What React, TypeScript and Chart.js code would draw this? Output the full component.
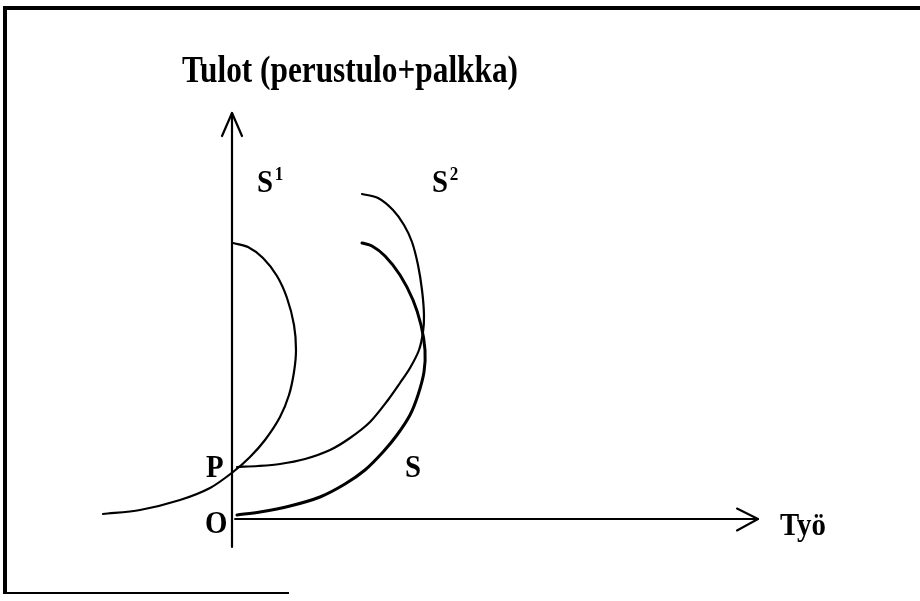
import React, { useEffect, useRef } from "react";
import { Chart, registerables } from "chart.js";

Chart.register(...registerables);

// Axis units: x = Työ (work), y = Tulot (income). Origin O = (0, 0).
// Supply curve S (from origin O, bending back at the top)
const sCurveX = [0.5, 2.8, 5.8, 8.8, 11.3, 13.3, 15.1, 16.5, 17.8, 18.6, 19.2, 19.3, 18.9, 18.1, 16.8, 15.3, 14.0, 13.0];
const sCurveY = [0.4, 0.7, 1.3, 2.2, 3.5, 4.9, 6.7, 8.4, 10.4, 12.4, 14.7, 16.9, 19.4, 21.9, 24.4, 26.3, 27.3, 27.6];

// Supply curve S¹ (crosses income axis at P, tail to the left)
const s1CurveX = [-12.9, -9.2, -5.2, -2.2, 0.1, 1.8, 3.3, 4.8, 5.7, 6.2, 6.4, 6.2, 5.5, 4.5, 3.1, 1.6, 0.1];
const s1CurveY = [0.5, 0.9, 1.9, 3.1, 4.7, 6.2, 7.9, 10.2, 12.4, 14.7, 16.9, 19.4, 22.1, 24.3, 26.1, 27.2, 27.6];

// Supply curve S² (starts from basic income P)
const s2CurveX = [0.5, 2.6, 4.8, 7.3, 9.8, 11.8, 13.8, 15.6, 16.8, 17.8, 18.7, 19.1, 19.2, 19.0, 18.6, 18.0, 17.2, 16.1, 14.6, 13.0];
const s2CurveY = [5.2, 5.3, 5.5, 6.0, 6.9, 8.1, 9.7, 11.9, 13.6, 15.1, 16.9, 18.7, 20.4, 22.9, 25.4, 27.7, 29.4, 30.9, 32.1, 32.5];

// Axes (with arrow heads)
const incomeAxisX = [0, 0];
const incomeAxisY = [-2.8, 40.6];
const incomeArrowX = [-1.0, 0, 1.0];
const incomeArrowY = [38.3, 40.6, 38.3];
const workAxisX = [0.3, 52.6];
const workAxisY = [0, 0];
const workArrowX = [50.5, 52.6, 50.5];
const workArrowY = [1.05, 0, -1.15];

// Texts
const titleText = "Tulot (perustulo+palkka)";
const labelTexts = ["S", "S", "P", "S", "O", "Työ"];
const labelSups = ["1", "2", "", "", "", ""];
const labelAnchorX = [2.5, 20.0, -2.6, 17.3, -2.7, 54.8];
const labelAnchorY = [32.7, 32.7, 4.2, 4.2, -1.4, -1.6];
const titleAnchor = { x: -5.0, y: 43.7 };

const X_MIN = -23.2;
const X_MAX = 68.8;
const Y_MIN = -8.2;
const Y_MAX = 51.9;

const zip = (xs: number[], ys: number[]) => xs.map((x, i) => ({ x, y: ys[i] }));

const SERIF = '"Liberation Serif", "Times New Roman", serif';

const textPlugin = {
  id: "diagramTexts",
  afterDatasetsDraw(chart: any) {
    const { ctx, scales } = chart;
    const sx = scales.x;
    const sy = scales.y;
    ctx.save();
    ctx.fillStyle = "#000";
    ctx.textAlign = "left";
    ctx.textBaseline = "alphabetic";

    // title
    ctx.save();
    ctx.translate(sx.getPixelForValue(titleAnchor.x), sy.getPixelForValue(titleAnchor.y));
    ctx.font = `bold 37px ${SERIF}`;
    const tw = ctx.measureText(titleText).width;
    ctx.scale(336 / tw, 1);
    ctx.fillText(titleText, 0, 0);
    ctx.restore();

    labelTexts.forEach((t, i) => {
      ctx.save();
      ctx.translate(sx.getPixelForValue(labelAnchorX[i]), sy.getPixelForValue(labelAnchorY[i]));
      ctx.scale(0.9, 1);
      ctx.font = `bold 32px ${SERIF}`;
      ctx.fillText(t, 0, 0);
      if (labelSups[i]) {
        const w = ctx.measureText(t).width;
        ctx.font = `bold 19px ${SERIF}`;
        ctx.fillText(labelSups[i], w + 2, -12);
      }
      ctx.restore();
    });
    ctx.restore();
  },
};

const line = (data: { x: number; y: number }[], width: number, tension = 0.3) => ({
  data,
  showLine: true,
  borderColor: "#000",
  backgroundColor: "#000",
  borderWidth: width,
  pointRadius: 0,
  pointHoverRadius: 0,
  tension,
  fill: false,
  borderCapStyle: "round" as const,
  borderJoinStyle: "round" as const,
});

export default function App() {
  const canvasRef = useRef<HTMLCanvasElement | null>(null);

  useEffect(() => {
    if (!canvasRef.current) return;
    const chart = new Chart(canvasRef.current, {
      type: "scatter",
      data: {
        datasets: [
          line(zip(incomeAxisX, incomeAxisY), 2.2, 0),
          line(zip(incomeArrowX, incomeArrowY), 2.2, 0),
          line(zip(workAxisX, workAxisY), 2, 0),
          line(zip(workArrowX, workArrowY), 2, 0),
          line(zip(s1CurveX, s1CurveY), 2.2),
          line(zip(s2CurveX, s2CurveY), 2.2),
          line(zip(sCurveX, sCurveY), 3),
        ],
      },
      options: {
        animation: false,
        responsive: false,
        maintainAspectRatio: false,
        devicePixelRatio: 1,
        layout: { padding: 0 },
        plugins: {
          legend: { display: false },
          title: { display: false },
          tooltip: { enabled: false },
        },
        events: [],
        scales: {
          x: { type: "linear", min: X_MIN, max: X_MAX, display: false },
          y: { type: "linear", min: Y_MIN, max: Y_MAX, display: false },
        },
      },
      plugins: [textPlugin],
    });
    return () => chart.destroy();
  }, []);

  return (
    <div style={{ position: "fixed", left: 0, top: 0, width: 920, height: 601, background: "#fff" }}>
      <canvas ref={canvasRef} width={920} height={601} style={{ position: "absolute", left: 0, top: 0 }} />
      <div
        style={{
          position: "absolute",
          left: 3,
          top: 6,
          width: 917,
          height: 587,
          borderTop: "4px solid #000",
          borderLeft: "4px solid #000",
          boxSizing: "border-box",
          pointerEvents: "none",
        }}
      />
      <div
        style={{
          position: "absolute",
          left: 3,
          top: 592,
          width: 286,
          height: 2,
          background: "#000",
          pointerEvents: "none",
        }}
      />
    </div>
  );
}
